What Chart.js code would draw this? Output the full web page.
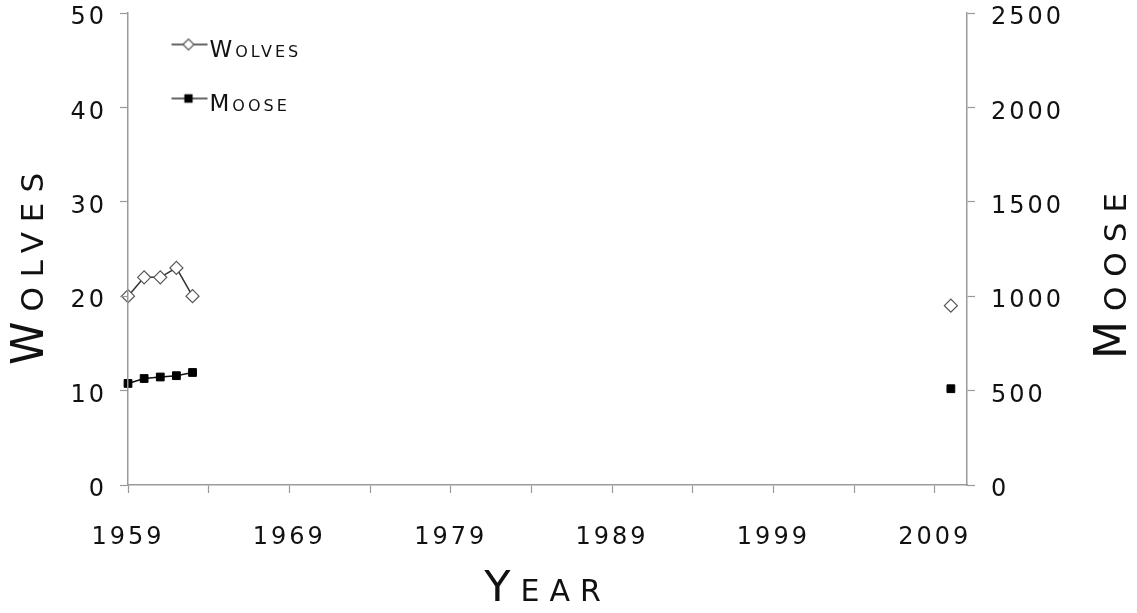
<!DOCTYPE html>
<html>
<head>
<meta charset="utf-8">
<title>Wolves and Moose</title>
<script src="https://cdn.jsdelivr.net/npm/chart.js@4.4.1/dist/chart.umd.min.js"></script>
<style>
  html, body { margin: 0; padding: 0; background: #fff; }
  #wrap { width: 1137px; height: 613px; }
</style>
</head>
<body>
<div id="wrap"><canvas id="popChart"></canvas></div>
<script>
// data
const wolfYears = [1959, 1960, 1961, 1962, 1963, 2010];
const wolfCounts = [20, 22, 22, 23, 20, 19];
const mooseYears = [1959, 1960, 1961, 1962, 1963, 2010];
const mooseCounts = [538, 564, 572, 579, 596, 510];

// axes
const yearTicks = [1959, 1964, 1969, 1974, 1979, 1984, 1989, 1994, 1999, 2004, 2009];
const yearLabels = [1959, 1969, 1979, 1989, 1999, 2009];
const wolfTicks = [0, 10, 20, 30, 40, 50];
const mooseTicks = [0, 500, 1000, 1500, 2000, 2500];

const axisGray = "#9a9a9a";
const inkColor = "#111";
const titleShift = { y: 15, y1: 22 }; // titles sit a bit below the axis middle

Chart.defaults.font.family = "DejaVu Sans";
Chart.defaults.color = inkColor;

// y axis whose title can be flipped to read bottom-to-top on the right side
class SideTitleScale extends Chart.LinearScale {
  drawTitle() {
    const title = this.options.title;
    if (!title.display) return super.drawTitle();
    const ctx = this.ctx;
    const shift = titleShift[this.id] || 0;
    const midY = (this.top + this.bottom) / 2;
    ctx.save();
    if (this.position === "right") {
      const font = Chart.helpers.toFont(title.font);
      const pad = Chart.helpers.toPadding(title.padding);
      const cx = this.right - (font.lineHeight / 2 + pad.top);
      ctx.translate(cx, midY + shift);
      ctx.rotate(Math.PI);
      ctx.translate(-cx, -midY);
    } else {
      ctx.translate(0, shift);
    }
    super.drawTitle();
    ctx.restore();
  }
}
SideTitleScale.id = "sideTitle";
SideTitleScale.defaults = Chart.LinearScale.defaults;
Chart.register(SideTitleScale);

// wide lettering like the original typeface
const spacingPlugin = {
  id: "spacing",
  beforeUpdate(chart) { chart.ctx.letterSpacing = "3px"; },
  beforeDraw(chart) { chart.ctx.letterSpacing = "3px"; },
  afterDatasetsDraw(chart) { chart.ctx.letterSpacing = "10px"; }, // axis titles
  afterDraw(chart) { chart.ctx.letterSpacing = "3px"; },
};

// legend symbol: short line with the marker on it
function legendIcon(style, fill, stroke) {
  const c = document.createElement("canvas");
  c.width = 64;
  c.height = 30;
  const g = c.getContext("2d");
  g.strokeStyle = "#333";
  g.lineWidth = 1.5;
  g.beginPath();
  g.moveTo(25, 8);
  g.lineTo(61, 8);
  g.stroke();
  g.fillStyle = fill;
  g.strokeStyle = stroke;
  g.lineWidth = 1.2;
  Chart.helpers.drawPoint(g, { pointStyle: style, radius: style === "rect" ? 5 : 5.5, borderWidth: 1.2, rotation: 0 }, 42, 8);
  return c;
}
const legendIcons = [legendIcon("rectRot", "#fff", "#555"), legendIcon("rect", "#000", "#000")];

const smallCaps = (size, lineHeight) => ({ family: "DejaVu Sans", size: size, weight: "small-caps 400", lineHeight: lineHeight });
const tickFont = { family: "DejaVu Sans", size: 24, lineHeight: 1 };

const fixedTicks = (values) => (scale) => {
  scale.ticks = values.map((v) => ({ value: v }));
};
// keep the plot top where the layout padding puts it
const fixWidth = (w) => (scale) => {
  scale.width = w;
  scale.paddingTop = 0;
  scale.paddingBottom = 0;
};
const hideGap = (c) => (c.p1.parsed.x - c.p0.parsed.x > 1 ? "rgba(0,0,0,0)" : undefined);

new Chart(document.getElementById("popChart"), {
  type: "line",
  data: {
    datasets: [
      {
        label: "Wolves",
        data: wolfYears.map((yr, i) => ({ x: yr, y: wolfCounts[i] })),
        yAxisID: "y",
        borderColor: "#333",
        borderWidth: 1.5,
        pointStyle: "rectRot",
        pointRadius: 6.5,
        pointBackgroundColor: "#fff",
        pointBorderColor: "#555",
        pointBorderWidth: 1.2,
        clip: false,
        segment: { borderColor: hideGap },
      },
      {
        label: "Moose",
        data: mooseYears.map((yr, i) => ({ x: yr, y: mooseCounts[i] })),
        yAxisID: "y1",
        borderColor: "#111",
        borderWidth: 1.5,
        pointStyle: "rect",
        pointRadius: 5.5,
        pointBackgroundColor: "#000",
        pointBorderColor: "#000",
        pointBorderWidth: 1,
        clip: false,
        segment: { borderColor: hideGap },
      },
    ],
  },
  options: {
    responsive: true,
    maintainAspectRatio: false,
    animation: false,
    layout: { padding: { top: 13, left: 0, right: 0, bottom: 0 } },
    plugins: {
      tooltip: { enabled: false },
      legend: {
        position: "chartArea",
        align: "start",
        title: { display: true, text: "", font: { size: 9, lineHeight: 1 }, padding: 0 },
        labels: {
          usePointStyle: true,
          pointStyleWidth: 39,
          padding: 31,
          color: inkColor,
          font: smallCaps(23, 1.2),
          generateLabels(chart) {
            const items = Chart.defaults.plugins.legend.labels.generateLabels(chart);
            items.forEach((item, i) => { item.pointStyle = legendIcons[i]; });
            return items;
          },
        },
      },
    },
    scales: {
      x: {
        type: "linear",
        min: 1959,
        max: 2011,
        afterBuildTicks: fixedTicks(yearTicks),
        afterFit(scale) { scale.height = 128; },
        border: { color: axisGray, width: 1.5, z: 1 },
        grid: { drawOnChartArea: false, color: axisGray, tickLength: 8, tickWidth: 1.2, z: 1 },
        ticks: {
          autoSkip: false,
          maxRotation: 0,
          padding: 33,
          font: tickFont,
          color: inkColor,
          callback: (v) => (yearLabels.includes(v) ? String(v) : ""),
        },
        title: { display: true, text: "Year", color: inkColor, font: smallCaps(43, 1), padding: { top: 0, bottom: 1.5 } },
      },
      y: {
        type: "sideTitle",
        position: "left",
        min: 0,
        max: 50,
        afterBuildTicks: fixedTicks(wolfTicks),
        afterFit: fixWidth(128),
        border: { color: axisGray, width: 1.5, z: 1 },
        grid: { drawOnChartArea: false, color: axisGray, tickLength: 8, tickWidth: 1.2, z: 1 },
        ticks: { padding: 13, labelOffset: 5, font: tickFont, color: inkColor, callback: (v) => String(v) },
        title: { display: true, text: "Wolves", color: inkColor, font: smallCaps(44, 1), padding: { top: 10, bottom: 0 } },
      },
      y1: {
        type: "sideTitle",
        position: "right",
        min: 0,
        max: 2500,
        afterBuildTicks: fixedTicks(mooseTicks),
        afterFit: fixWidth(170),
        border: { color: axisGray, width: 1.5, z: 1 },
        grid: { drawOnChartArea: false, color: axisGray, tickLength: 8, tickWidth: 1.2, z: 1 },
        ticks: { padding: 16, labelOffset: 5, font: tickFont, color: inkColor, callback: (v) => String(v) },
        title: { display: true, text: "Moose", color: inkColor, font: smallCaps(44, 1), padding: { top: 0, bottom: 0 } },
      },
    },
  },
  plugins: [spacingPlugin],
});
</script>
</body>
</html>
